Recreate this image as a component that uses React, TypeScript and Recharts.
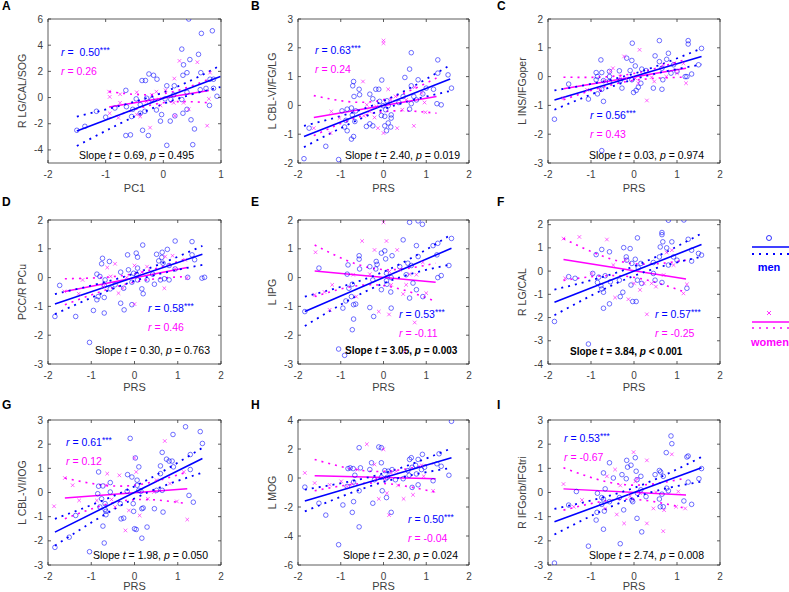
import React from 'react';
import { ComposedChart, Scatter, Line, XAxis, YAxis } from 'recharts';

type Pt = [number, number];
type Band = [number, number, number];

const BLUE = '#0000ff';
const PINK = '#ff00ff';
const AXIS = '#333333';
const GRAY = '#404040';
const FONT = '"Liberation Sans", Arial, Helvetica, sans-serif';

// tick labels
const xTicksPC1 = [-2, -1, 0, 1];
const xTicksPRS = [-2, -1, 0, 1, 2];
const yTicksA = [-4, -2, 0, 2, 4, 6];
const yTicks23 = [-2, -1, 0, 1, 2, 3];
const yTicks32 = [-3, -2, -1, 0, 1, 2];
const yTicks42 = [-4, -3, -2, -1, 0, 1, 2];
const yTicks33 = [-3, -2, -1, 0, 1, 2, 3];
const yTicks64 = [-6, -4, -2, 0, 2, 4];

// A: R LG/CAL/SOG vs PC1
const menA: Pt[] = [[0.44,6.0],[0.66,4.9],[0.85,5.1],[0.32,3.7],[0.61,3.3],[0.46,2.9],[0.35,2.5],[0.41,1.9],[0.65,1.9],[0.34,1.7],[-0.25,1.8],[-0.17,1.7],[-0.37,1.3],[-0.31,1.3],[-0.11,1.4],[0.06,0.9],[0.19,0.9],[0.81,1.4],[0.87,1.4],[0.74,0.7],[0.87,0.7],[0.93,0.1],[-0.65,0.55],[-0.47,-0.1],[-0.29,-0.05],[-0.2,-0.15],[0.03,-0.1],[0.13,-0.15],[0.32,-0.15],[0.18,0.2],[0.41,0.4],[0.64,0.6],[-0.84,-0.8],[-0.64,-0.7],[-0.53,-0.9],[-0.4,-1.2],[-0.32,-1.05],[-0.55,-1.45],[-0.4,-0.55],[-0.12,-0.95],[-0.03,-1.3],[-0.05,-1.8],[0.12,-1.8],[0.34,-1.2],[0.2,-1.4],[0.48,-1.7],[0.8,-0.6],[-1.0,-1.5],[-1.16,-1.05],[-1.36,-2.2],[-1.5,-2.5],[-0.65,-2.9],[-0.57,-2.85],[-0.26,-2.9],[-0.36,-2.5],[0.06,-3.65],[0.51,-3.6],[0.54,-2.4],[0.41,-0.9]];
const womenA: Pt[] = [[0.28,2.8],[0.59,2.7],[0.19,1.45],[0.81,1.9],[-0.94,0.45],[-0.93,0.05],[-0.75,0.25],[-0.46,0.4],[-0.12,0.45],[0.04,0.55],[-0.2,0.2],[0.18,-0.4],[0.35,-0.4],[0.44,-0.9],[0.2,-1.4],[-0.46,-1.3],[-0.4,-1.45],[-0.23,-2.3],[0.76,-2.15],[-0.78,-1.55],[-0.05,-0.6],[-0.08,-0.15],[-0.29,-0.3],[-0.75,-0.4],[-0.93,-1.2],[0.79,-0.1]];
const menFitA: Pt[] = [[-1.5,-2.55],[0.99,1.6]];
const menBandA: Band[] = [[-1.5,-3.7,-1.45],[-0.1,-0.66,0.24],[0.99,0.8,2.45]];
const womenFitA: Pt[] = [[-0.94,-0.73],[0.79,0.54]];
const womenBandA: Band[] = [[-0.94,-1.6,0.45],[-0.05,-0.43,0.27],[0.79,-0.4,1.4]];

// B: L CBL-VI/FG/LG
const menB: Pt[] = [[-1.86,-1.85],[-1.05,-1.88],[-1.35,-1.42],[-1.74,-0.79],[-0.97,-0.19],[-0.85,-0.13],[-0.75,-0.09],[-0.65,-0.19],[-0.73,-0.33],[-0.88,-0.52],[-0.67,-0.56],[-0.91,-0.75],[-0.85,-0.88],[-0.7,-1.08],[-0.75,-1.17],[-0.7,0.83],[-0.72,0.68],[-0.69,0.31],[-0.57,0.56],[-0.56,0.37],[-0.32,0.39],[-0.18,0.56],[-0.11,0.56],[-0.04,0.88],[-0.25,0.23],[-0.09,0.14],[-0.01,-0.01],[0.11,-0.01],[0.05,-0.15],[0.03,-0.38],[0.18,-0.33],[0.18,-0.44],[0.11,-0.61],[0.03,-0.71],[0.07,-0.88],[0.17,-0.75],[-0.32,-0.64],[-0.25,-0.71],[-0.4,-0.73],[-0.05,-0.35],[0.08,0.16],[0.5,0.97],[0.61,1.26],[0.65,1.83],[0.65,0.68],[0.81,0.89],[0.71,0.31],[0.65,0.06],[0.61,-0.13],[0.77,0.19],[1.0,0.6],[0.92,0.4],[1.17,0.56],[1.27,1.58],[1.27,1.12],[1.51,1.06],[1.59,0.6],[1.25,0.06],[1.35,0.02],[0.46,0.31],[0.36,0.1]];
const womenB: Pt[] = [[0.0,2.25],[0.0,2.16],[-0.48,0.83],[0.11,0.56],[0.28,0.31],[0.89,0.43],[0.96,0.1],[-0.39,0.02],[-1.22,-0.21],[-1.63,-0.79],[-1.24,-0.96],[-0.21,-0.42],[0.32,-0.79],[0.71,-0.71],[0.98,-0.24],[0.0,-0.96],[-0.13,-0.79],[-0.46,-0.36],[0.44,-0.15],[-0.32,-0.21],[-0.17,-0.04],[-1.03,-0.44],[0.73,0.63],[0.53,0.19],[0.17,0.19]];
const menFitB: Pt[] = [[-1.86,-1.08],[1.56,0.92]];
const menBandB: Band[] = [[-1.86,-1.45,-0.71],[-0.1,-0.19,0.09],[1.56,0.5,1.4]];
const womenFitB: Pt[] = [[-1.63,-0.42],[1.24,0.31]];
const womenBandB: Band[] = [[-1.63,-1.05,0.34],[-0.2,-0.26,0.14],[1.24,-0.27,0.95]];

// C: L INS/IFGoper
const menC: Pt[] = [[-1.85,-1.48],[-0.75,-2.57],[-1.52,-0.26],[-0.77,0.58],[-0.88,0.14],[-0.85,0.0],[-0.75,0.14],[-0.88,-0.11],[-0.71,-0.14],[-1.06,-0.78],[-0.85,-0.6],[-0.75,-0.44],[-0.71,-0.86],[-0.57,0.18],[-0.57,0.0],[-0.57,-0.17],[-0.34,0.2],[-0.32,-0.14],[-0.28,-0.4],[-0.17,0.64],[-0.05,0.56],[-0.09,0.21],[-0.04,1.16],[-0.05,-0.11],[-0.01,-0.55],[0.05,-0.48],[0.1,-0.37],[0.16,-0.23],[0.18,0.26],[0.28,0.21],[0.03,0.37],[0.59,1.25],[0.49,0.72],[0.59,0.52],[0.45,-0.4],[0.65,-0.44],[0.67,-0.11],[0.65,0.29],[0.76,0.6],[0.8,0.81],[0.92,0.41],[1.0,0.18],[0.86,0.12],[1.19,0.0],[1.26,1.25],[1.26,1.13],[1.34,0.09],[1.5,0.41],[1.57,0.98],[1.23,0.0]];
const womenC: Pt[] = [[0.13,0.93],[-0.23,0.7],[-0.49,0.29],[-0.18,-0.06],[0.03,-0.06],[-0.55,0.18],[-0.67,-0.15],[-1.09,-0.46],[-1.64,-0.75],[0.3,-0.83],[0.1,-0.23],[0.41,-0.02],[0.47,-0.17],[0.75,0.0],[0.93,0.46],[1.15,0.46],[1.0,0.12],[1.21,-0.23],[0.68,0.41],[-0.32,0.0],[-0.79,-0.46]];
const menFitC: Pt[] = [[-1.85,-0.81],[1.57,0.7]];
const menBandC: Band[] = [[-1.85,-1.15,-0.48],[-0.1,-0.14,0.06],[1.57,0.42,0.98]];
const womenFitC: Pt[] = [[-1.64,-0.42],[1.21,0.29]];
const womenBandC: Band[] = [[-1.64,-0.8,-0.02],[-0.2,-0.18,0.06],[1.21,-0.02,0.6]];

// D: PCC/R PCu
const menD: Pt[] = [[-1.84,-1.35],[-1.36,-1.35],[-1.73,-0.27],[-1.04,-2.25],[-0.95,-1.14],[-0.87,-0.77],[-0.84,-0.66],[-0.87,0.12],[-0.8,0.04],[-0.74,0.67],[-0.76,0.48],[-0.68,-0.08],[-0.7,-0.27],[-0.7,-0.69],[-0.7,-1.23],[-0.58,0.56],[-0.56,-0.39],[-0.45,-0.25],[-0.32,0.19],[-0.25,-0.37],[-0.32,-0.89],[-0.24,-1.12],[-0.16,0.79],[-0.14,0.27],[-0.06,-0.16],[-0.02,0.15],[-0.06,-0.94],[0.04,0.85],[0.07,0.71],[0.07,0.33],[0.05,0.1],[0.07,-0.08],[0.17,-0.39],[0.2,-0.56],[0.19,1.13],[0.29,-0.08],[0.46,-0.23],[0.51,0.81],[0.56,0.58],[0.64,0.88],[0.63,0.7],[0.66,0.5],[0.6,-0.08],[0.69,-0.04],[0.76,0.98],[0.8,-0.08],[0.8,0.42],[0.94,1.27],[0.94,0.3],[1.23,0.01],[1.33,1.25],[1.33,0.79],[1.39,0.62],[1.56,-0.02],[1.62,0.01],[0.42,0.12]];
const womenD: Pt[] = [[-1.29,-0.56],[-0.63,0.35],[-0.45,0.48],[-0.55,0.04],[-0.72,-0.31],[-0.37,-0.54],[-0.27,-0.37],[0.0,-0.92],[0.0,0.42],[0.29,0.38],[0.17,0.19],[0.69,-0.37],[0.71,0.73],[0.88,0.76],[1.17,0.62],[1.21,-0.02],[0.94,0.3],[-1.2,-0.08],[-1.62,-0.48],[-0.18,0.0]];
const menFitD: Pt[] = [[-1.84,-0.92],[1.57,0.81]];
const menBandD: Band[] = [[-1.84,-1.27,-0.57],[-0.05,-0.14,0.12],[1.57,0.44,1.1]];
const womenFitD: Pt[] = [[-1.61,-0.48],[1.22,0.35]];
const womenBandD: Band[] = [[-1.61,-0.94,-0.04],[-0.1,-0.19,0.11],[1.22,0.04,0.67]];

// E: L IPG
const menE: Pt[] = [[-1.84,-1.18],[-1.05,-2.48],[-0.91,-2.7],[-0.73,-1.81],[-0.7,-1.44],[-0.7,-0.94],[-0.65,-0.92],[-0.95,-1.06],[-1.51,0.33],[-0.83,0.44],[-0.85,0.12],[-0.81,-0.37],[-0.75,-0.66],[-0.88,-0.81],[-0.73,-0.23],[-0.57,0.76],[-0.57,0.64],[-0.56,0.3],[-0.32,0.38],[-0.17,0.56],[-0.15,0.46],[-0.18,0.3],[-0.05,0.85],[0.03,0.93],[0.05,0.65],[-0.05,-0.42],[0.07,-0.11],[0.08,-0.23],[0.07,0.15],[0.17,-0.5],[0.18,0.0],[-0.25,-0.08],[-0.32,-1.04],[-0.23,-1.35],[0.2,0.76],[0.18,-1.06],[0.46,1.31],[0.61,1.92],[0.81,1.97],[0.91,1.85],[0.77,1.11],[0.53,0.1],[0.57,0.5],[0.65,0.42],[0.69,-0.19],[0.61,-0.71],[0.77,-0.42],[0.81,0.73],[1.16,1.11],[1.27,1.19],[1.25,0.79],[1.27,0.0],[1.35,0.07],[1.53,0.42],[1.59,1.36],[0.92,-0.66],[0.38,0.38]];
const womenE: Pt[] = [[-1.59,0.88],[-1.38,-0.5],[-1.61,-0.6],[-1.26,-1.12],[-1.2,-0.25],[-0.71,0.1],[-0.64,-0.66],[-0.5,1.27],[-0.21,0.96],[0.0,1.92],[0.07,1.27],[0.32,0.96],[-0.11,-1.18],[0.13,-1.28],[0.18,-0.25],[0.38,0.27],[0.53,-0.25],[0.77,0.1],[0.92,0.53],[1.0,-0.54],[0.73,-1.56],[0.5,-2.58],[0.46,-0.57],[0.61,0.12],[-0.32,0.12],[0.14,0.21]];
const menFitE: Pt[] = [[-1.84,-1.18],[1.59,1.02]];
const menBandE: Band[] = [[-1.84,-1.68,-0.66],[-0.05,-0.23,0.17],[1.59,0.46,1.5]];
const womenFitE: Pt[] = [[-1.61,0.23],[1.22,-0.16]];
const womenBandE: Band[] = [[-1.61,-0.66,1.13],[-0.2,-0.25,0.31],[1.22,-0.83,0.5]];

// F: R LG/CAL
const menF: Pt[] = [[-1.85,-2.17],[-1.06,-3.14],[-1.52,-0.24],[-1.37,-0.31],[-0.71,-1.6],[-0.57,-1.41],[-0.96,-0.1],[-0.88,0.71],[-0.75,0.93],[-0.57,0.83],[-0.85,-0.49],[-0.77,-0.63],[-0.75,-0.77],[-0.71,-0.91],[-0.67,-0.2],[-0.55,-0.46],[-0.82,-0.26],[-0.34,-0.39],[-0.32,-1.1],[-0.26,-0.91],[-0.24,1.01],[-0.18,0.61],[-0.17,0.47],[-0.09,0.97],[-0.05,0.33],[-0.07,-0.6],[-0.03,-1.31],[0.05,-1.31],[0.03,0.51],[0.08,1.43],[0.1,0.14],[0.16,0.33],[0.18,-0.53],[0.08,-0.39],[0.45,-0.1],[0.49,-0.39],[0.65,-0.49],[0.61,1.04],[0.59,0.61],[0.65,1.66],[0.65,1.57],[0.67,1.26],[0.76,1.0],[0.8,2.19],[0.8,0.26],[0.88,1.26],[0.92,0.61],[1.0,0.47],[1.16,2.2],[1.23,-0.74],[1.26,1.37],[1.34,0.9],[1.34,0.43],[1.5,0.76],[1.57,0.69],[0.45,0.37]];
const womenF: Pt[] = [[-1.64,1.4],[-1.27,1.47],[-0.63,1.36],[-0.98,-0.1],[-1.6,-0.31],[-0.44,-1.14],[-0.13,-1.21],[-0.2,0.47],[0.0,-0.53],[0.14,-0.81],[0.3,-1.86],[0.41,-0.53],[0.51,-0.67],[0.69,-0.17],[0.88,0.9],[0.76,0.8],[1.15,-0.96],[1.23,-0.57],[0.92,0.26],[-0.48,0.26],[0.23,-0.53]];
const menFitF: Pt[] = [[-1.85,-1.34],[1.57,1.14]];
const menBandF: Band[] = [[-1.85,-1.9,-0.8],[-0.05,-0.24,0.17],[1.57,0.62,1.62]];
const womenFitF: Pt[] = [[-1.64,0.5],[1.21,-0.34]];
const womenBandF: Band[] = [[-1.64,-0.4,1.4],[-0.2,-0.22,0.37],[1.21,-0.92,0.47]];

// G: L CBL-VI/IOG
const menG: Pt[] = [[-1.84,-2.27],[-1.51,-1.85],[-1.04,-2.45],[-1.36,-0.95],[-0.83,0.26],[-0.83,0.85],[-0.85,-0.05],[-0.8,-0.6],[-0.73,-1.39],[-0.7,-2.09],[-0.73,0.27],[-0.76,-0.26],[-0.68,-0.46],[-0.68,-0.7],[-0.66,-0.78],[-0.66,-0.92],[-0.56,0.41],[-0.56,0.02],[-0.33,-0.46],[-0.31,-1.09],[-0.25,-1.06],[-0.17,0.05],[-0.16,0.74],[-0.1,2.24],[-0.06,0.64],[-0.03,-0.46],[-0.02,-0.78],[0.0,-1.5],[0.04,-1.53],[0.02,1.43],[0.06,0.51],[0.06,0.3],[0.1,0.09],[0.1,1.06],[0.15,0.05],[0.17,-0.67],[0.2,-0.64],[0.17,-1.89],[0.29,-1.43],[0.46,-0.67],[0.51,0.09],[0.6,1.1],[0.64,1.66],[0.6,0.78],[0.64,0.09],[0.66,-0.81],[0.74,1.38],[0.8,1.3],[0.87,1.3],[0.89,2.4],[0.9,1.06],[1.18,2.72],[1.29,1.57],[1.29,0.95],[1.26,-0.12],[1.36,-0.4],[1.52,2.52],[1.57,2.03]];
const womenG: Pt[] = [[-1.86,-0.57],[-1.61,0.6],[-1.43,0.3],[-1.28,-0.33],[-0.87,-0.33],[-0.66,0.3],[-0.63,0.78],[-0.53,-0.29],[-0.21,-1.57],[0.0,1.43],[0.04,0.85],[0.31,-0.26],[0.51,0.51],[0.7,2.13],[0.82,0.37],[0.98,-0.37],[1.22,-1.12],[1.14,0.85],[0.12,-0.95],[-0.13,-0.74],[-0.35,0.71],[0.45,0.02],[-0.45,-0.6]];
const menFitG: Pt[] = [[-1.84,-1.64],[1.57,1.41]];
const menBandG: Band[] = [[-1.84,-2.2,-1.09],[-0.05,-0.29,0.21],[1.57,0.82,1.85]];
const womenFitG: Pt[] = [[-1.61,-0.23],[1.22,0.16]];
const womenBandG: Band[] = [[-1.61,-1.09,0.6],[-0.2,-0.33,0.27],[1.22,-0.46,0.85]];

// H: L MOG
const menH: Pt[] = [[-1.84,-0.63],[-1.51,-1.74],[-1.35,-2.56],[-1.05,-4.6],[-0.95,-1.86],[-0.85,-0.58],[-0.83,0.65],[-0.78,0.7],[-0.71,0.65],[-0.7,-0.28],[-0.7,-1.63],[-0.73,-2.37],[-0.67,0.19],[-0.57,-0.88],[-0.57,2.09],[-0.57,-3.37],[-0.54,0.7],[-0.28,1.05],[-0.25,-1.74],[-0.32,0.58],[-0.21,-0.12],[-0.11,2.14],[-0.05,2.09],[-0.05,1.05],[-0.05,0.05],[-0.03,-0.88],[0.03,0.51],[0.05,-0.05],[0.07,-1.35],[0.09,0.05],[0.11,0.47],[0.18,-2.37],[0.2,0.58],[0.28,-0.12],[0.46,-0.05],[0.57,0.51],[0.6,0.19],[0.61,1.28],[0.65,1.4],[0.67,0.74],[0.67,-0.65],[0.75,0.88],[0.77,0.28],[0.81,1.28],[0.81,-0.47],[0.91,1.63],[0.96,0.74],[1.16,-0.19],[1.25,0.98],[1.35,0.81],[1.3,1.67],[1.53,0.19],[1.59,3.91],[0.89,0.58]];
const womenH: Pt[] = [[-1.84,0.35],[-1.61,-0.35],[-1.26,-0.47],[-0.99,-0.23],[-0.85,-0.58],[-0.73,-0.42],[-0.61,0.58],[-0.39,2.33],[-0.21,0.93],[-0.11,-1.44],[0.0,1.98],[0.03,-0.05],[0.08,-1.05],[0.13,-2.56],[0.18,0.35],[0.34,-0.51],[0.47,-1.44],[0.69,-1.16],[0.89,0.88],[0.94,0.12],[1.16,-0.88],[0.3,0.47],[-0.17,-0.05]];
const menFitH: Pt[] = [[-1.84,-1.58],[1.59,1.4]];
const menBandH: Band[] = [[-1.84,-2.3,-0.8],[-0.05,-0.32,0.28],[1.59,0.7,2.05]];
const womenFitH: Pt[] = [[-1.61,0.16],[1.22,-0.05]];
const womenBandH: Band[] = [[-1.61,-0.88,1.28],[-0.2,-0.35,0.45],[1.22,-0.98,1.05]];

// I: R IFGorb/IFGtri
const menI: Pt[] = [[-1.85,-2.92],[-1.06,-2.22],[-0.32,-2.12],[-1.52,-0.52],[-1.34,0.04],[-0.88,-1.14],[-0.86,-0.82],[-0.85,-0.03],[-0.75,-0.21],[-0.75,-0.49],[-0.71,-0.27],[-0.69,-0.77],[-0.71,0.81],[-0.71,-1.52],[-0.67,0.15],[-0.57,1.23],[-0.57,-0.38],[-0.48,0.6],[-0.34,-0.21],[-0.28,0.74],[-0.24,-0.72],[-0.17,1.33],[-0.15,1.05],[-0.18,0.57],[-0.07,1.13],[-0.05,-0.31],[-0.03,-0.38],[0.03,1.44],[0.05,0.88],[0.07,0.53],[0.07,-1.07],[0.08,-0.03],[0.16,0.11],[0.18,-1.63],[0.16,0.67],[0.28,-0.17],[0.49,0.74],[0.59,0.91],[0.62,0.85],[0.59,-0.27],[0.61,-0.59],[0.65,-0.07],[0.68,0.67],[0.75,1.65],[0.76,0.18],[0.8,0.07],[0.86,2.34],[0.88,2.02],[1.16,-0.35],[1.23,1.47],[1.26,1.51],[1.26,0.43],[1.34,-0.49],[1.51,0.57],[1.57,0.99],[0.68,-0.59]];
const womenI: Pt[] = [[-1.64,0.35],[-1.4,-0.59],[-1.21,-0.31],[-0.67,-0.66],[-0.63,0.67],[-0.44,0.95],[-0.4,-0.91],[-0.32,0.29],[-0.23,-1.28],[-0.01,1.67],[0.03,0.46],[0.07,0.57],[0.14,-0.03],[0.3,1.33],[0.3,-1.28],[0.45,-0.66],[0.51,0.01],[0.7,-0.73],[0.68,-1.6],[0.88,1.58],[0.98,-0.59],[1.19,-0.66],[1.03,0.04],[-0.09,-0.15]];
const menFitI: Pt[] = [[-1.85,-1.21],[1.57,1.02]];
const menBandI: Band[] = [[-1.85,-1.74,-0.68],[-0.05,-0.24,0.16],[1.57,0.45,1.47]];
const womenFitI: Pt[] = [[-1.64,0.15],[1.21,-0.1]];
const womenBandI: Band[] = [[-1.64,-0.73,1.02],[-0.2,-0.28,0.32],[1.21,-0.66,0.6]];

const toXY = (pts: Pt[]) => pts.map(([x, y]) => ({ x, y }));
const toBand = (b: Band[]) => b.map(([x, lo, hi]) => ({ x, lo, hi }));

const colLeft = [48, 298, 548];
const colRight = [221, 469, 720];
const rowTop = [19, 220, 420];
const rowBottom = [163, 364, 565];
const xLabelY = [188, 387, 586];

const panels = [
  { id: 'A', col: 0, row: 0, ylabel: 'R LG/CAL/SOG', xlabel: 'PC1', xDomain: [-2, 1], xTicks: xTicksPC1, yDomain: [-5, 6], yTicks: yTicksA,
    men: menA, women: womenA, menFit: menFitA, menBand: menBandA, womenFit: womenFitA, womenBand: womenBandA,
    rMen: '\u00a00.50', rWomen: '0.26', rAt: [61, 52], slopeAt: [79, 155], t: '0.69', p: '= 0.495', bold: false },
  { id: 'B', col: 1, row: 0, ylabel: 'L CBL-VI/FG/LG', xlabel: 'PRS', xDomain: [-2, 2], xTicks: xTicksPRS, yDomain: [-2, 3], yTicks: yTicks23,
    men: menB, women: womenB, menFit: menFitB, menBand: menBandB, womenFit: womenFitB, womenBand: womenBandB,
    rMen: '0.63', rWomen: '0.24', rAt: [315, 50], slopeAt: [345, 155], t: '2.40', p: '= 0.019', bold: false },
  { id: 'C', col: 2, row: 0, ylabel: 'L INS/IFGoper', xlabel: 'PRS', xDomain: [-2, 2], xTicks: xTicksPRS, yDomain: [-3, 2], yTicks: yTicks32,
    men: menC, women: womenC, menFit: menFitC, menBand: menBandC, womenFit: womenFitC, womenBand: womenBandC,
    rMen: '0.56', rWomen: '0.43', rAt: [590, 115], slopeAt: [589, 155], t: '0.03', p: '= 0.974', bold: false },
  { id: 'D', col: 0, row: 1, ylabel: 'PCC/R PCu', xlabel: 'PRS', xDomain: [-2, 2], xTicks: xTicksPRS, yDomain: [-3, 2], yTicks: yTicks32,
    men: menD, women: womenD, menFit: menFitD, menBand: menBandD, womenFit: womenFitD, womenBand: womenBandD,
    rMen: '0.58', rWomen: '0.46', rAt: [148, 308], slopeAt: [95, 350], t: '0.30', p: '= 0.763', bold: false },
  { id: 'E', col: 1, row: 1, ylabel: 'L IPG', xlabel: 'PRS', xDomain: [-2, 2], xTicks: xTicksPRS, yDomain: [-3, 2], yTicks: yTicks32,
    men: menE, women: womenE, menFit: menFitE, menBand: menBandE, womenFit: womenFitE, womenBand: womenBandE,
    rMen: '0.53', rWomen: '-0.11', rAt: [399, 314], slopeAt: [345, 350], t: '3.05', p: '= 0.003', bold: true },
  { id: 'F', col: 2, row: 1, ylabel: 'R LG/CAL', xlabel: 'PRS', xDomain: [-2, 2], xTicks: xTicksPRS, yDomain: [-4, 2.2], yTicks: yTicks42,
    men: menF, women: womenF, menFit: menFitF, menBand: menBandF, womenFit: womenFitF, womenBand: womenBandF,
    rMen: '0.57', rWomen: '-0.25', rAt: [655, 314], slopeAt: [570, 351], t: '3.84', p: '< 0.001', bold: true },
  { id: 'G', col: 0, row: 2, ylabel: 'L CBL-VI/IOG', xlabel: 'PRS', xDomain: [-2, 2], xTicks: xTicksPRS, yDomain: [-3, 3], yTicks: yTicks33,
    men: menG, women: womenG, menFit: menFitG, menBand: menBandG, womenFit: womenFitG, womenBand: womenBandG,
    rMen: '0.61', rWomen: '0.12', rAt: [66, 442], slopeAt: [93, 555], t: '1.98', p: '= 0.050', bold: false },
  { id: 'H', col: 1, row: 2, ylabel: 'L MOG', xlabel: 'PRS', xDomain: [-2, 2], xTicks: xTicksPRS, yDomain: [-6, 4], yTicks: yTicks64,
    men: menH, women: womenH, menFit: menFitH, menBand: menBandH, womenFit: womenFitH, womenBand: womenBandH,
    rMen: '0.50', rWomen: '-0.04', rAt: [408, 519], slopeAt: [343, 555], t: '2.30', p: '= 0.024', bold: false },
  { id: 'I', col: 2, row: 2, ylabel: 'R IFGorb/IFGtri', xlabel: 'PRS', xDomain: [-2, 2], xTicks: xTicksPRS, yDomain: [-3, 3], yTicks: yTicks33,
    men: menI, women: womenI, menFit: menFitI, menBand: menBandI, womenFit: womenFitI, womenBand: womenBandI,
    rMen: '0.53', rWomen: '-0.67', rAt: [564, 438], slopeAt: [589, 555], t: '2.74', p: '= 0.008', bold: false },
];

function Tick(props: any) {
  const { x, y, payload, side } = props;
  const L = 3;
  const txt = { fontFamily: FONT, fontSize: 10, fill: GRAY } as const;
  if (side === 'bottom') {
    return (
      <g>
        <line x1={x} y1={y} x2={x} y2={y - L} stroke={AXIS} strokeWidth={0.8} />
        <text x={x} y={y + 11} textAnchor="middle" dominantBaseline="central" style={txt}>{payload.value}</text>
      </g>
    );
  }
  if (side === 'top') return <line x1={x} y1={y} x2={x} y2={y + L} stroke={AXIS} strokeWidth={0.8} />;
  if (side === 'left') {
    return (
      <g>
        <line x1={x} y1={y} x2={x + L} y2={y} stroke={AXIS} strokeWidth={0.8} />
        <text x={x - 5} y={y} textAnchor="end" dominantBaseline="central" style={txt}>{payload.value}</text>
      </g>
    );
  }
  return <line x1={x} y1={y} x2={x - L} y2={y} stroke={AXIS} strokeWidth={0.8} />;
}

const Circle = (p: any) => (
  <circle cx={p.cx} cy={p.cy} r={2.3} fill="none" stroke={BLUE} strokeOpacity={0.7} strokeWidth={0.8} />
);
const Cross = (p: any) => (
  <g stroke={PINK} strokeOpacity={0.75} strokeWidth={0.8}>
    <line x1={p.cx - 1.8} y1={p.cy - 1.8} x2={p.cx + 1.8} y2={p.cy + 1.8} />
    <line x1={p.cx - 1.8} y1={p.cy + 1.8} x2={p.cx + 1.8} y2={p.cy - 1.8} />
  </g>
);

// plot offsets inside each chart: left axis 40 wide, bottom axis 22 tall, thin top/right axes
const LEFT_W = 40, BOTTOM_H = 22, TOP_H = 2, RIGHT_W = 2, PAD = 8;

function Panel({ p }: { p: (typeof panels)[number] }) {
  const left = colLeft[p.col], right = colRight[p.col];
  const top = rowTop[p.row], bottom = rowBottom[p.row];
  const w = right - left, h = bottom - top;
  const axisProps = {
    type: 'number' as const,
    allowDataOverflow: true,
    tickSize: 0,
    tickMargin: 0,
    tickLine: false,
    interval: 0 as const,
    axisLine: { stroke: AXIS, strokeWidth: 0.8 },
  };
  return (
    <div style={{ position: 'absolute', left: left - LEFT_W, top: top - PAD - TOP_H }}>
      <ComposedChart width={w + LEFT_W + RIGHT_W + PAD} height={h + PAD + TOP_H + BOTTOM_H}
        margin={{ top: PAD, left: 0, right: PAD, bottom: 0 }}>
        <XAxis {...axisProps} xAxisId={0} dataKey="x" domain={p.xDomain} ticks={p.xTicks} height={BOTTOM_H}
          tick={(t: any) => <Tick {...t} side="bottom" />} />
        <XAxis {...axisProps} xAxisId="top" orientation="top" dataKey="x" domain={p.xDomain} ticks={p.xTicks} height={TOP_H}
          tick={(t: any) => <Tick {...t} side="top" />} />
        <YAxis {...axisProps} yAxisId={0} dataKey="y" domain={p.yDomain} ticks={p.yTicks} width={LEFT_W}
          tick={(t: any) => <Tick {...t} side="left" />} />
        <YAxis {...axisProps} yAxisId="right" orientation="right" dataKey="y" domain={p.yDomain} ticks={p.yTicks} width={RIGHT_W}
          tick={(t: any) => <Tick {...t} side="right" />} />
        <Scatter data={toXY(p.men)} shape={Circle} isAnimationActive={false} />
        <Scatter data={toXY(p.women)} shape={Cross} isAnimationActive={false} />
        <Line data={toBand(p.womenBand)} dataKey="lo" type="natural" stroke={PINK} strokeWidth={1.6} strokeDasharray="2 5" dot={false} isAnimationActive={false} />
        <Line data={toBand(p.womenBand)} dataKey="hi" type="natural" stroke={PINK} strokeWidth={1.6} strokeDasharray="2 5" dot={false} isAnimationActive={false} />
        <Line data={toXY(p.womenFit)} dataKey="y" type="linear" stroke={PINK} strokeWidth={1.5} dot={false} isAnimationActive={false} />
        <Line data={toBand(p.menBand)} dataKey="lo" type="natural" stroke={BLUE} strokeWidth={1.8} strokeDasharray="2 5" dot={false} isAnimationActive={false} />
        <Line data={toBand(p.menBand)} dataKey="hi" type="natural" stroke={BLUE} strokeWidth={1.8} strokeDasharray="2 5" dot={false} isAnimationActive={false} />
        <Line data={toXY(p.menFit)} dataKey="y" type="linear" stroke={BLUE} strokeWidth={1.6} dot={false} isAnimationActive={false} />
      </ComposedChart>
    </div>
  );
}

function Overlay() {
  const label = { fontFamily: FONT, fontSize: 10.5, fill: GRAY } as const;
  const ann = { fontFamily: FONT, fontSize: 10.5, whiteSpace: 'pre' } as const;
  return (
    <svg width={789} height={592} style={{ position: 'absolute', left: 0, top: 0, pointerEvents: 'none' }}>
      {panels.map((p) => {
        const left = colLeft[p.col], right = colRight[p.col];
        const top = rowTop[p.row], bottom = rowBottom[p.row];
        const letterX = [2, 251, 497][p.col];
        const letterY = [6, 202, 405][p.row];
        const cy = (top + bottom) / 2;
        return (
          <g key={p.id}>
            <text x={letterX} y={letterY} dominantBaseline="central" style={{ fontFamily: FONT, fontSize: 12, fontWeight: 'bold', fill: '#000' }}>{p.id}</text>
            <text x={left - 26} y={cy} transform={`rotate(-90 ${left - 26} ${cy})`} textAnchor="middle" dominantBaseline="central" style={label}>{p.ylabel}</text>
            <text x={(left + right) / 2} y={xLabelY[p.row]} textAnchor="middle" dominantBaseline="central" style={{ ...label, fontSize: 11 }}>{p.xlabel}</text>
            <text x={p.rAt[0]} y={p.rAt[1]} dominantBaseline="central" style={{ ...ann, fill: BLUE }}>
              <tspan fontStyle="italic">r</tspan> = {p.rMen}<tspan fontSize={8.5} dy={-2}>***</tspan>
            </text>
            <text x={p.rAt[0]} y={p.rAt[1] + 18.5} dominantBaseline="central" style={{ ...ann, fill: PINK }}>
              <tspan fontStyle="italic">r</tspan> = {p.rWomen}
            </text>
            <text x={p.slopeAt[0]} y={p.slopeAt[1]} dominantBaseline="central"
              style={{ ...ann, fill: '#000', fontWeight: p.bold ? 'bold' : 'normal', fontSize: p.bold ? 10 : 10.5 }}>
              Slope <tspan fontStyle="italic">t</tspan> = {p.t}, <tspan fontStyle="italic">p</tspan> {p.p}
            </text>
          </g>
        );
      })}
      {/* legend */}
      <circle cx={769} cy={238} r={2.5} fill="none" stroke={BLUE} strokeWidth={0.8} />
      <line x1={752} y1={247} x2={789} y2={247} stroke={BLUE} strokeWidth={1.6} />
      <line x1={752} y1={254} x2={789} y2={254} stroke={BLUE} strokeWidth={1.8} strokeDasharray="2 5" />
      <text x={769} y={267} textAnchor="middle" dominantBaseline="central" style={{ fontFamily: FONT, fontSize: 11, fontWeight: 'bold', fill: BLUE }}>men</text>
      <g stroke={PINK} strokeWidth={0.8}>
        <line x1={767} y1={311} x2={771} y2={315} />
        <line x1={767} y1={315} x2={771} y2={311} />
      </g>
      <line x1={752} y1={322} x2={789} y2={322} stroke={PINK} strokeWidth={1.5} />
      <line x1={752} y1={328} x2={789} y2={328} stroke={PINK} strokeWidth={1.6} strokeDasharray="2 5" />
      <text x={770} y={342} textAnchor="middle" dominantBaseline="central" style={{ fontFamily: FONT, fontSize: 11, fontWeight: 'bold', fill: PINK }}>women</text>
    </svg>
  );
}

export default function App() {
  return (
    <div style={{ position: 'absolute', left: 0, top: 0, width: 789, height: 592, background: '#fff', overflow: 'hidden' }}>
      {panels.map((p) => <Panel key={p.id} p={p} />)}
      <Overlay />
    </div>
  );
}
